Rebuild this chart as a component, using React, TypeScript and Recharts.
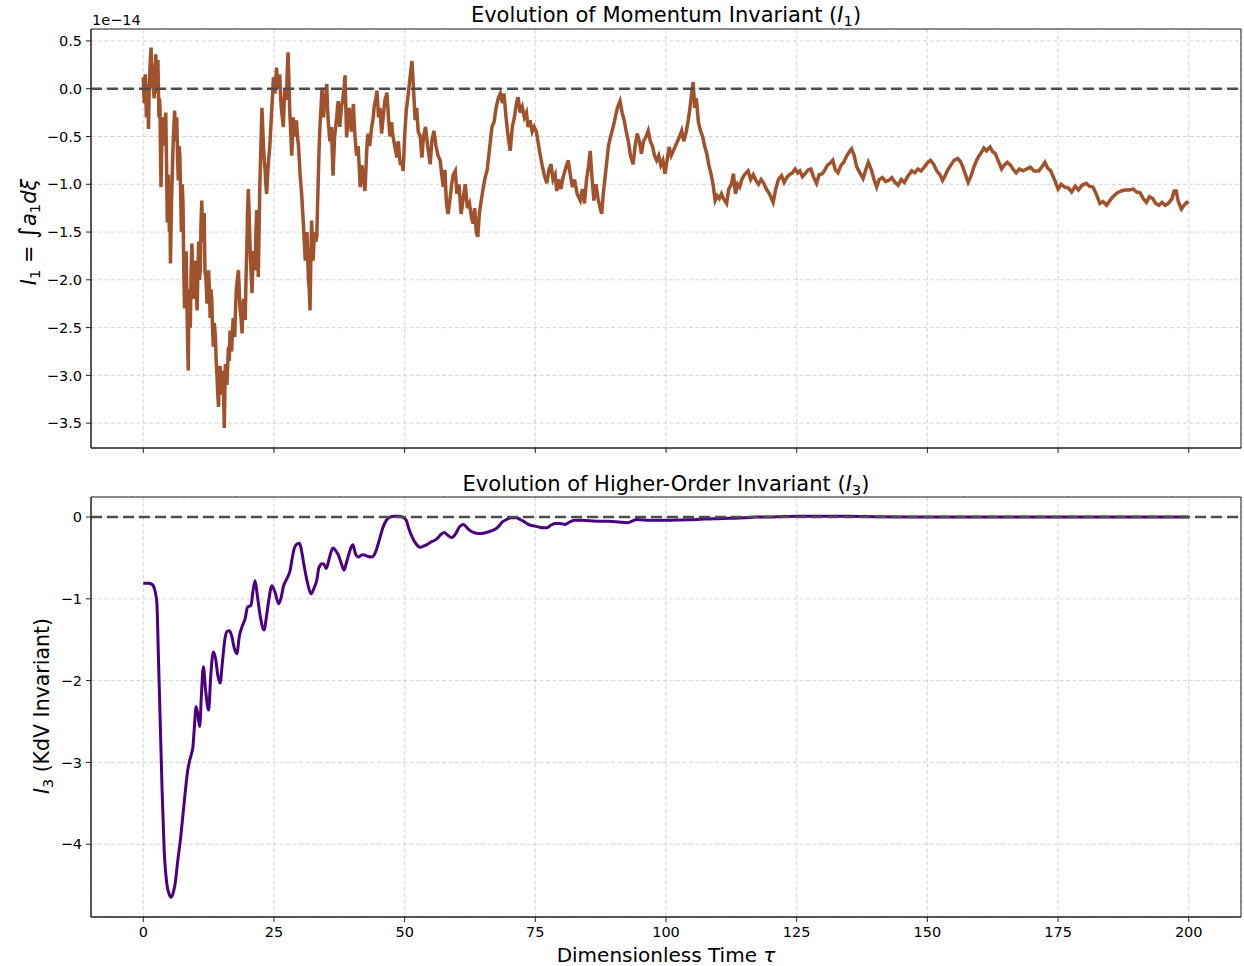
import React from 'react';
import { LineChart, Line, XAxis, YAxis, CartesianGrid, ReferenceLine, ReferenceArea } from 'recharts';

// tau (dimensionless time) ticks
const tauTicks = [0, 25, 50, 75, 100, 125, 150, 175, 200];
const i1Ticks = [0.5, 0.0, -0.5, -1.0, -1.5, -2.0, -2.5, -3.0, -3.5];
const i3Ticks = [0, -1, -2, -3, -4];

// Momentum invariant I1 (units of 1e-14): [tau, value]
const i1Samples: [number, number][] = [
  [0, 0.12], [0.1, -0.05], [0.2, -0.15], [0.3, 0.1], [0.4, 0.15], [0.5, -0.1], [0.6, -0.3], [0.7, 0.0], [0.8, 0.05], [0.9, -0.2],
  [1.0, -0.42], [1.1, -0.1], [1.2, 0.1], [1.35, 0.3], [1.5, 0.43], [1.6, 0.15], [1.7, 0.0], [1.8, 0.25], [1.9, 0.2], [2.0, -0.05],
  [2.1, -0.1], [2.25, 0.2], [2.4, 0.36], [2.5, 0.1], [2.6, -0.05], [2.7, 0.15], [2.8, 0.3], [2.9, 0.0], [3.0, -0.3], [3.1, -0.1],
  [3.2, -0.2], [3.3, -0.7], [3.4, -1.03], [3.5, -0.7], [3.6, -0.5], [3.7, -0.6], [3.8, -0.3], [3.9, -0.4], [4.0, -0.55], [4.15, -0.35],
  [4.3, -0.25], [4.45, -0.8], [4.6, -1.4], [4.7, -1.1], [4.8, -0.9], [4.9, -1.3], [5.0, -1.5], [5.1, -1.2], [5.2, -1.83], [5.3, -1.5],
  [5.4, -1.2], [5.55, -0.9], [5.7, -0.6], [5.85, -0.4], [6.0, -0.23], [6.1, -0.4], [6.2, -0.55], [6.3, -0.35], [6.4, -0.3], [6.55, -0.7],
  [6.7, -0.96], [6.85, -0.6], [7.0, -0.7], [7.15, -1.1], [7.3, -1.5], [7.45, -1.0], [7.6, -1.2], [7.75, -1.9], [7.9, -2.3], [8.05, -1.9],
  [8.2, -1.7], [8.4, -2.4], [8.6, -2.95], [8.7, -2.4], [8.8, -2.1], [8.9, -2.3], [9.0, -2.5], [9.15, -1.9], [9.3, -1.62], [9.45, -1.9],
  [9.6, -2.2], [9.75, -2.0], [9.9, -1.8], [10.1, -2.1], [10.3, -2.32], [10.45, -1.9], [10.6, -1.6], [10.75, -2.0], [10.9, -1.9], [11.05, -1.4],
  [11.2, -1.17], [11.35, -1.6], [11.5, -1.5], [11.65, -1.3], [11.8, -1.9], [12.0, -2.0], [12.2, -2.25], [12.35, -2.05], [12.5, -1.9], [12.65, -2.1],
  [12.8, -2.4], [12.95, -2.1], [13.1, -2.2], [13.25, -2.5], [13.4, -2.7], [13.6, -2.45], [13.8, -2.6], [13.95, -2.85], [14.1, -3.0], [14.25, -3.2],
  [14.4, -3.33], [14.55, -3.0], [14.7, -2.9], [14.85, -3.1], [15.0, -3.2], [15.15, -2.95], [15.3, -3.0], [15.4, -3.3], [15.5, -3.55], [15.6, -3.2],
  [15.7, -2.88], [15.85, -3.0], [16.0, -3.1], [16.15, -2.9], [16.3, -2.7], [16.45, -2.85], [16.6, -2.53], [16.75, -2.7], [16.9, -2.75], [17.05, -2.55],
  [17.2, -2.4], [17.35, -2.5], [17.5, -2.6], [17.65, -2.3], [17.8, -2.1], [18.0, -2.0], [18.2, -1.9], [18.35, -2.1], [18.5, -2.3], [18.7, -2.4],
  [18.9, -2.56], [19.05, -2.3], [19.2, -2.2], [19.35, -2.35], [19.5, -2.42], [19.65, -2.0], [19.8, -1.7], [19.95, -1.3], [20.1, -1.05], [20.25, -1.3],
  [20.4, -1.6], [20.6, -1.9], [20.8, -2.14], [20.95, -1.85], [21.1, -1.7], [21.25, -1.85], [21.4, -1.9], [21.55, -1.5], [21.7, -1.27], [21.85, -1.6],
  [22.0, -1.97], [22.15, -1.5], [22.3, -1.0], [22.5, -0.6], [22.7, -0.2], [22.85, -0.4], [23.0, -0.6], [23.15, -0.75], [23.3, -0.85], [23.45, -1.0],
  [23.6, -1.1], [23.75, -0.95], [23.9, -0.8], [24.05, -0.7], [24.2, -0.61], [24.35, -0.45], [24.5, -0.3], [24.7, -0.1], [24.9, 0.12], [25.05, 0.0],
  [25.2, -0.05], [25.35, 0.1], [25.5, 0.22], [25.65, 0.05], [25.8, 0.0], [25.95, 0.1], [26.1, 0.15], [26.25, -0.05], [26.4, -0.2], [26.6, -0.3],
  [26.8, -0.4], [26.95, -0.15], [27.1, 0.0], [27.25, -0.1], [27.4, -0.1], [27.55, 0.2], [27.7, 0.38], [27.85, 0.1], [28.0, -0.2], [28.2, -0.45],
  [28.4, -0.7], [28.55, -0.5], [28.7, -0.3], [28.85, -0.45], [29.0, -0.5], [29.15, -0.4], [29.3, -0.33], [29.5, -0.5], [29.7, -0.6], [29.85, -0.75],
  [30.0, -0.9], [30.15, -1.0], [30.3, -1.1], [30.45, -1.25], [30.6, -1.38], [30.8, -1.6], [31.0, -1.8], [31.15, -1.6], [31.3, -1.5], [31.45, -1.75],
  [31.6, -2.0], [31.75, -2.1], [31.9, -2.32], [32.05, -1.8], [32.2, -1.38], [32.35, -1.6], [32.5, -1.8], [32.65, -1.6], [32.8, -1.5], [33.0, -1.6],
  [33.2, -1.55], [33.35, -1.2], [33.5, -0.9], [33.65, -0.6], [33.8, -0.4], [34.0, -0.2], [34.2, 0.01], [34.35, -0.15], [34.5, -0.3], [34.65, -0.15],
  [34.8, -0.1], [34.95, -0.05], [35.1, 0.05], [35.25, -0.2], [35.4, -0.35], [35.55, -0.45], [35.7, -0.55], [35.85, -0.5], [36.0, -0.4], [36.15, -0.65],
  [36.3, -0.91], [36.45, -0.7], [36.6, -0.5], [36.8, -0.4], [37.0, -0.3], [37.15, -0.2], [37.3, -0.13], [37.45, -0.3], [37.6, -0.4], [37.75, -0.3],
  [37.9, -0.2], [38.05, -0.15], [38.2, -0.1], [38.4, 0.0], [38.6, 0.14], [38.75, -0.2], [38.9, -0.51], [39.05, -0.4], [39.2, -0.3], [39.35, -0.2],
  [39.5, -0.25], [39.65, -0.35], [39.8, -0.45], [40.0, -0.3], [40.2, -0.16], [40.35, -0.35], [40.5, -0.5], [40.65, -0.6], [40.8, -0.7], [40.95, -0.65],
  [41.1, -0.6], [41.3, -0.8], [41.5, -1.03], [41.65, -0.9], [41.8, -0.8], [41.95, -0.85], [42.1, -0.9], [42.25, -1.0], [42.4, -1.07], [42.55, -0.9],
  [42.7, -0.7], [42.85, -0.55], [43.0, -0.47], [43.15, -0.55], [43.3, -0.6], [43.5, -0.5], [43.7, -0.4], [43.85, -0.35], [44.0, -0.3], [44.15, -0.2],
  [44.3, -0.15], [44.5, -0.1], [44.7, -0.02], [44.85, -0.15], [45.0, -0.3], [45.15, -0.25], [45.3, -0.2], [45.45, -0.35], [45.6, -0.47], [45.8, -0.35],
  [46.0, -0.25], [46.15, -0.15], [46.3, -0.1], [46.45, -0.08], [46.6, -0.04], [46.75, -0.15], [46.9, -0.3], [47.05, -0.4], [47.2, -0.5], [47.35, -0.4],
  [47.5, -0.35], [47.65, -0.45], [47.8, -0.51], [47.95, -0.55], [48.1, -0.6], [48.3, -0.65], [48.5, -0.72], [48.65, -0.6], [48.8, -0.55], [49.0, -0.7],
  [49.2, -0.8], [49.45, -0.75], [49.7, -0.86], [49.85, -0.7], [50.0, -0.5], [50.3, -0.23], [50.6, -0.1],
  [51.0, 0.1], [51.4, 0.29], [51.7, 0.0], [52.0, -0.33], [52.3, -0.2], [52.6, -0.45], [53.0, -0.5], [53.3, -0.72], [53.6, -0.5], [54.0, -0.4],
  [54.4, -0.6], [54.9, -0.79], [55.2, -0.55], [55.6, -0.44], [56.0, -0.6], [56.4, -0.7], [56.8, -0.75], [57.1, -0.9], [57.4, -1.03], [57.7, -0.85],
  [58.0, -1.2], [58.3, -1.31], [58.7, -1.15], [59.0, -1.0], [59.3, -0.9], [59.7, -0.86], [60.0, -1.1], [60.4, -1.0], [60.8, -1.31], [61.2, -1.15],
  [61.6, -1.0], [62.0, -1.25], [62.4, -1.2], [62.8, -1.35], [63.1, -1.41], [63.4, -1.25], [63.7, -1.5], [64.0, -1.55], [64.3, -1.3], [64.6, -1.19],
  [65.0, -1.05], [65.4, -0.93], [65.8, -0.85], [66.3, -0.6], [66.7, -0.4], [67.1, -0.35], [67.5, -0.2], [67.9, -0.1], [68.3, -0.05], [68.7, -0.15],
  [69.0, -0.05], [69.4, -0.3], [69.8, -0.5], [70.2, -0.65], [70.6, -0.4], [71.0, -0.3], [71.4, -0.15], [71.7, -0.09], [72.1, -0.25], [72.5, -0.19],
  [72.9, -0.3], [73.3, -0.25], [73.6, -0.4], [74.0, -0.33], [74.4, -0.45], [74.8, -0.4], [75.2, -0.45], [75.5, -0.55], [75.9, -0.68], [76.3, -0.8],
  [76.7, -0.9], [77.2, -0.99], [77.6, -0.85], [78.0, -0.79], [78.4, -0.95], [78.8, -0.9], [79.1, -1.07], [79.5, -0.95], [79.9, -1.05], [80.3, -0.93],
  [80.7, -0.85], [81.3, -0.75], [81.7, -0.9], [82.1, -1.03], [82.5, -0.95], [83.0, -1.1], [83.6, -1.17], [84.0, -1.05], [84.4, -1.2], [84.8, -0.95],
  [85.2, -0.8], [85.5, -0.65], [85.8, -0.9], [86.2, -1.17], [86.6, -1.0], [87.0, -1.15], [87.4, -1.25], [87.7, -1.31], [88.0, -1.1], [88.4, -0.9],
  [88.7, -0.75], [89.0, -0.6], [89.4, -0.5], [89.9, -0.4], [90.3, -0.3], [90.7, -0.2], [91.2, -0.13], [91.6, -0.25], [92.0, -0.33], [92.4, -0.45],
  [92.8, -0.55], [93.2, -0.7], [93.7, -0.79], [94.1, -0.6], [94.5, -0.47], [94.9, -0.55], [95.3, -0.68], [95.7, -0.55], [96.2, -0.5], [96.6, -0.44],
  [97.0, -0.55], [97.4, -0.6], [97.8, -0.7], [98.2, -0.75], [98.6, -0.7], [99.0, -0.8], [99.4, -0.75], [99.8, -0.89], [100.2, -0.75], [100.6, -0.61],
  [101.0, -0.7], [101.4, -0.65], [101.8, -0.6], [102.2, -0.55], [102.6, -0.5], [103.0, -0.44], [103.4, -0.55], [103.8, -0.47], [104.2, -0.35], [104.6, -0.2],
  [104.9, -0.05], [105.2, 0.07], [105.5, -0.2], [105.8, -0.1], [106.2, -0.35], [106.6, -0.44], [107.0, -0.5], [107.4, -0.6], [107.8, -0.68], [108.2, -0.8],
  [108.6, -0.89], [109.0, -1.0], [109.4, -1.17], [109.8, -1.12], [110.2, -1.15], [110.6, -1.1], [111.0, -1.15], [111.6, -1.2], [112.0, -1.05], [112.5, -1.0],
  [112.9, -0.89], [113.3, -1.1], [113.7, -1.0], [114.1, -1.03], [114.5, -0.95], [115.0, -0.9], [115.7, -0.86], [116.2, -0.95], [116.7, -0.9], [117.2, -0.96],
  [117.7, -1.0], [118.2, -0.95], [118.7, -0.99], [119.2, -1.05], [119.8, -1.1], [120.5, -1.19], [121.0, -1.05], [121.5, -0.95], [122.1, -0.91], [122.6, -0.98],
  [123.1, -0.93], [123.6, -0.9], [124.2, -0.88], [124.7, -0.84], [125.2, -0.88], [125.6, -0.86], [126.1, -0.92], [126.6, -0.89], [127.2, -0.85], [127.7, -0.84],
  [128.2, -0.92], [128.8, -0.99], [129.3, -0.9], [129.9, -0.89], [130.4, -0.85], [130.9, -0.8], [131.4, -0.78], [131.9, -0.75], [132.4, -0.85], [132.9, -0.88],
  [133.5, -0.8], [134.0, -0.77], [134.6, -0.7], [135.2, -0.65], [135.5, -0.63], [136.0, -0.7], [136.5, -0.82], [137.1, -0.88], [137.7, -0.94], [138.2, -0.85],
  [138.7, -0.77], [139.3, -0.85], [139.8, -0.95], [140.3, -1.03], [140.8, -0.95], [141.4, -0.93], [142.0, -0.97], [142.6, -0.96], [143.2, -0.93], [143.8, -0.98],
  [144.4, -1.01], [145.0, -0.95], [145.6, -0.98], [146.2, -0.92], [147.0, -0.86], [147.6, -0.88], [148.2, -0.84], [148.8, -0.86], [149.4, -0.82], [150.1, -0.77],
  [150.6, -0.75], [151.2, -0.79], [151.8, -0.86], [152.4, -0.9], [152.9, -0.96], [153.3, -0.92], [153.9, -0.85], [154.5, -0.8], [155.1, -0.75], [155.8, -0.73],
  [156.3, -0.76], [156.8, -0.82], [157.3, -0.9], [157.8, -0.98], [158.3, -0.92], [158.9, -0.82], [159.4, -0.75], [159.9, -0.7], [160.3, -0.67], [160.8, -0.62],
  [161.3, -0.65], [162.0, -0.61], [162.5, -0.66], [163.0, -0.68], [163.6, -0.76], [164.2, -0.84], [164.7, -0.8], [165.3, -0.77], [165.9, -0.8], [166.5, -0.85],
  [167.0, -0.88], [167.6, -0.84], [168.3, -0.86], [169.0, -0.84], [169.7, -0.82], [170.4, -0.86], [171.3, -0.86], [171.9, -0.82], [172.5, -0.77], [173.0, -0.83],
  [173.6, -0.86], [174.3, -0.95], [175.0, -1.05], [175.6, -1.0], [176.3, -1.03], [177.0, -1.04], [177.6, -1.08], [178.3, -1.02], [178.9, -1.06], [179.6, -1.01],
  [180.4, -0.99], [181.0, -1.02], [181.7, -1.03], [182.3, -1.1], [183.0, -1.2], [183.6, -1.18], [184.3, -1.22], [184.9, -1.17], [185.5, -1.13], [186.3, -1.09],
  [187.1, -1.07], [187.8, -1.06], [188.6, -1.06], [189.4, -1.05], [190.0, -1.08], [190.7, -1.09], [191.3, -1.15], [191.9, -1.19], [192.5, -1.13], [193.1, -1.15],
  [193.7, -1.2], [194.3, -1.22], [194.9, -1.19], [195.5, -1.22], [196.1, -1.2], [196.8, -1.15], [197.2, -1.07], [197.6, -1.07], [198.0, -1.18], [198.6, -1.26],
  [199.1, -1.22], [199.6, -1.19], [200.0, -1.2],
];

// Higher-order (KdV) invariant I3: [tau, value]
const i3Samples: [number, number][] = [
  [0, -0.81], [1.0, -0.81], [1.6, -0.82], [2.0, -0.85], [2.3, -0.92], [2.6, -1.05], [2.9, -1.71], [3.25, -2.52], [3.6, -3.34], [4.0, -4.07],
  [4.5, -4.48], [5.0, -4.62], [5.3, -4.65], [5.7, -4.6], [6.1, -4.48], [6.6, -4.2], [7.1, -3.95], [7.5, -3.7], [8.0, -3.38], [8.5, -3.1],
  [8.9, -2.97], [9.2, -2.9], [9.5, -2.81], [9.8, -2.55], [10.1, -2.32], [10.4, -2.4], [10.8, -2.56], [11.1, -2.2], [11.5, -1.83], [11.9, -2.1],
  [12.5, -2.36], [12.9, -1.95], [13.4, -1.65], [13.8, -1.72], [14.3, -1.95], [14.7, -2.03], [15.1, -1.8], [15.6, -1.5], [16.0, -1.4], [16.5, -1.39],
  [16.9, -1.45], [17.4, -1.6], [17.9, -1.67], [18.4, -1.45], [18.9, -1.34], [19.5, -1.24], [19.95, -1.1], [20.6, -1.08], [21.0, -0.9], [21.4, -0.78],
  [21.8, -0.95], [22.4, -1.22], [23.1, -1.38], [23.6, -1.2], [24.0, -1.02], [24.6, -0.84], [25.2, -0.92], [25.9, -1.06], [26.4, -0.98], [26.8, -0.85],
  [27.5, -0.75], [28.1, -0.65], [28.5, -0.5], [28.9, -0.38], [29.4, -0.33], [29.9, -0.32], [30.3, -0.42], [30.7, -0.57], [31.4, -0.8], [32.1, -0.94],
  [32.6, -0.88], [33.2, -0.77], [33.6, -0.62], [34.2, -0.57], [34.6, -0.58], [35.0, -0.63], [35.6, -0.5], [36.3, -0.38], [36.8, -0.41], [37.3, -0.46],
  [37.9, -0.57], [38.4, -0.65], [38.9, -0.55], [39.3, -0.46], [39.7, -0.38], [40.1, -0.34], [40.6, -0.45], [41.2, -0.49], [41.6, -0.47], [42.1, -0.46],
  [42.9, -0.48], [43.7, -0.49], [44.2, -0.46], [44.6, -0.4], [45.2, -0.27], [45.9, -0.12], [46.5, -0.04], [47.2, 0.0], [48.0, 0.01], [48.8, 0.01],
  [49.6, 0.0], [50.3, -0.04], [50.8, -0.14], [51.4, -0.24], [52.2, -0.33], [53.0, -0.37], [53.8, -0.35], [54.5, -0.33], [54.9, -0.31], [55.6, -0.29],
  [56.1, -0.27], [57.0, -0.21], [57.6, -0.19], [58.2, -0.22], [59.0, -0.25], [59.8, -0.2], [60.5, -0.12], [61.2, -0.09], [61.8, -0.12], [62.4, -0.16],
  [63.3, -0.19], [64.0, -0.2], [64.7, -0.2], [65.6, -0.19], [66.6, -0.17], [67.3, -0.15], [67.9, -0.12], [68.7, -0.06], [69.5, -0.03], [70.4, -0.01],
  [71.4, -0.01], [72.1, -0.03], [72.7, -0.05], [73.4, -0.08], [74.0, -0.1], [74.8, -0.11], [75.6, -0.12], [76.4, -0.13], [77.2, -0.13], [78.0, -0.1],
  [78.8, -0.08], [79.7, -0.08], [80.7, -0.09], [81.6, -0.06], [82.6, -0.04], [84.0, -0.04], [86.7, -0.05], [89.0, -0.05], [91.0, -0.06], [92.5, -0.07],
  [93.5, -0.05], [94.4, -0.03], [97.0, -0.04], [100.0, -0.04], [103.0, -0.035], [105.9, -0.03], [109.0, -0.02], [112.0, -0.015], [115.0, -0.01], [117.3, 0.0],
  [120.0, 0.0], [122.0, 0.005], [125.0, 0.01], [130.0, 0.01], [135.0, 0.01], [140.0, 0.005], [150.0, 0.0], [160.0, 0.0], [170.0, 0.0], [180.0, 0.0],
  [190.0, 0.0], [200.0, 0.0],
];

const i1Data = i1Samples.map(([t, v]) => ({ t, v }));
const i3Data = i3Samples.map(([t, v]) => ({ t, v }));

const FONT = '"DejaVu Sans", sans-serif';
const tickStyle = { fontSize: 14.5, fill: '#000', fontFamily: FONT };
const minus = (s: string) => s.replace('-', '\u2212');

const Sub = ({ children }: { children: React.ReactNode }) => (
  <span style={{ fontSize: '0.7em', position: 'relative', top: '0.3em' }}>{children}</span>
);

export default function App() {
  const X_DOMAIN: [number, number] = [-10, 210];
  const Y1: [number, number] = [-3.76, 0.625];
  const Y3: [number, number] = [-4.89, 0.245];
  return (
    <div style={{ position: 'absolute', left: 0, top: 0, width: 1244, height: 966, background: '#fff', fontFamily: FONT, color: '#000' }}>
      {/* Titles */}
      <div style={{ position: 'absolute', left: 666, top: 15, transform: 'translate(-50%,-50%)', fontSize: 21, whiteSpace: 'nowrap' }}>
        Evolution of Momentum Invariant (<i>I</i><Sub>1</Sub>)
      </div>
      <div style={{ position: 'absolute', left: 666, top: 484, transform: 'translate(-50%,-50%)', fontSize: 21, whiteSpace: 'nowrap' }}>
        Evolution of Higher-Order Invariant (<i>I</i><Sub>3</Sub>)
      </div>
      {/* offset text */}
      <div style={{ position: 'absolute', left: 92, top: 20, transform: 'translateY(-50%)', fontSize: 14.5, whiteSpace: 'nowrap' }}>
        1e{'\u2212'}14
      </div>
      {/* Y labels */}
      <div style={{ position: 'absolute', left: 28, top: 232, transform: 'translate(-50%,-50%) rotate(-90deg)', fontSize: 21, whiteSpace: 'nowrap' }}>
        <i>I</i><Sub>1</Sub> = <span style={{ fontSize: '1.15em' }}>{'\u222B'}</span><i>a</i><Sub>1</Sub><i>d{'\u03BE'}</i>
      </div>
      <div style={{ position: 'absolute', left: 42, top: 706, transform: 'translate(-50%,-50%) rotate(-90deg)', fontSize: 20.5, whiteSpace: 'nowrap' }}>
        <i>I</i><Sub>3</Sub> (KdV Invariant)
      </div>
      {/* X label */}
      <div style={{ position: 'absolute', left: 666, top: 955, transform: 'translate(-50%,-50%)', fontSize: 20, whiteSpace: 'nowrap' }}>
        Dimensionless Time <i>{'\u03C4'}</i>
      </div>

      <div style={{ position: 'absolute', left: 0, top: 0 }}>
        <LineChart width={1244} height={460} data={i1Data} margin={{ top: 29, right: 3, bottom: 0, left: 0 }}>
          <CartesianGrid stroke="#c8c8c8" strokeDasharray="4 2.5" strokeWidth={0.8} />
          <XAxis dataKey="t" type="number" domain={X_DOMAIN} ticks={tauTicks} allowDataOverflow height={12}
            tickFormatter={() => ''} tickSize={5} stroke="#222" tickLine={{ stroke: '#222' }} />
          <YAxis type="number" domain={Y1} ticks={i1Ticks} allowDataOverflow width={91} tickSize={5} tickMargin={4}
            tick={tickStyle} stroke="#222" tickLine={{ stroke: '#222' }} tickFormatter={(v: number) => minus(v.toFixed(1))} />
          <ReferenceArea x1={X_DOMAIN[0]} x2={X_DOMAIN[1]} y1={Y1[0]} y2={Y1[1]} fill="none" stroke="#222" strokeWidth={1} ifOverflow="visible" />
          <Line type="linear" dataKey="v" stroke="#A0522D" strokeWidth={3.5} dot={false} isAnimationActive={false} />
          <ReferenceLine y={0} stroke="#4d4d4d" strokeWidth={2.5} strokeDasharray="11 5" />
        </LineChart>
      </div>

      <div style={{ position: 'absolute', left: 0, top: 470 }}>
        <LineChart width={1244} height={496} data={i3Data} margin={{ top: 27, right: 3, bottom: 0, left: 0 }}>
          <CartesianGrid stroke="#c8c8c8" strokeDasharray="4 2.5" strokeWidth={0.8} />
          <XAxis dataKey="t" type="number" domain={X_DOMAIN} ticks={tauTicks} allowDataOverflow height={49}
            tick={tickStyle} tickSize={5} tickMargin={5} stroke="#222" tickLine={{ stroke: '#222' }} />
          <YAxis type="number" domain={Y3} ticks={i3Ticks} allowDataOverflow width={91} tickSize={5} tickMargin={4}
            tick={tickStyle} stroke="#222" tickLine={{ stroke: '#222' }} tickFormatter={(v: number) => minus(String(v))} />
          <ReferenceArea x1={X_DOMAIN[0]} x2={X_DOMAIN[1]} y1={Y3[0]} y2={Y3[1]} fill="none" stroke="#222" strokeWidth={1} ifOverflow="visible" />
          <Line type="monotone" dataKey="v" stroke="#4B0082" strokeWidth={3} dot={false} isAnimationActive={false} />
          <ReferenceLine y={0} stroke="#4d4d4d" strokeWidth={2.5} strokeDasharray="11 5" />
        </LineChart>
      </div>
    </div>
  );
}
